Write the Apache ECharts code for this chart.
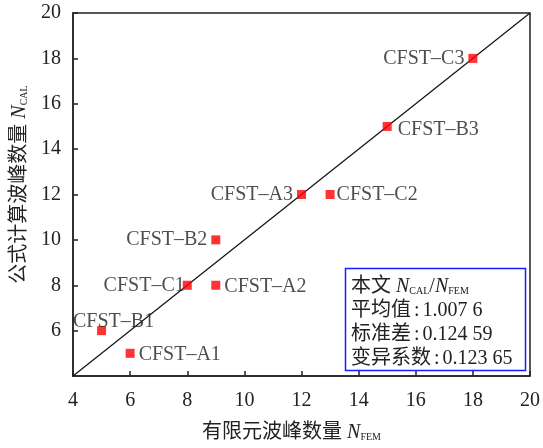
<!DOCTYPE html>
<html>
<head>
<meta charset="utf-8">
<script src="https://cdn.jsdelivr.net/npm/echarts@6/dist/echarts.min.js"></script>
<style>
  html, body { margin: 0; padding: 0; background: #fff; }
  #chart { width: 543px; height: 448px; }
</style>
</head>
<body>
<div id="chart"></div>
<script>
// Specimen names with finite-element and formula wave-crest counts
const specimens = ['CFST–A1', 'CFST–B1', 'CFST–C1', 'CFST–A2', 'CFST–B2', 'CFST–A3', 'CFST–C2', 'CFST–B3', 'CFST–C3'];
const nFem = [6, 5, 8, 9, 9, 12, 13, 15, 18];
const nCal = [5, 6, 8, 8, 10, 12, 12, 15, 18];
// Reference line y = x
const refLine = [[4, 4], [20, 20]];
// Statistics of N_CAL / N_FEM
const statMean = '1.007 6';
const statStd = '0.124 59';
const statCov = '0.123 65';

// Label placement per specimen: side, distance, offset
const labelSide = ['right', 'top', 'left', 'right', 'left', 'left', 'right', 'right', 'left'];
const labelDist = [4, 0, -2, 4, 4, 4, 2, 6, 4];
const labelShift = [[0, 1], [12, 6], [0, 0], [0, 1], [0, 0], [0, 0], [0, 0], [0, 3], [0, 0]];

const serif = '"Liberation Serif", "Noto Sans CJK SC", serif';
const sub = { fontFamily: serif, fontSize: 10, color: '#222', padding: [8, 0, 0, 0] };
const ital = { fontFamily: serif, fontSize: 20, fontStyle: 'italic', color: '#222' };
const colon = { fontFamily: serif, fontSize: 20, color: '#222', padding: [0, 3, 0, 3] };

const chart = echarts.init(document.getElementById('chart'));

const points = nFem.map((x, i) => ({
  value: [x, nCal[i]],
  name: specimens[i],
  label: { position: labelSide[i], distance: labelDist[i], offset: labelShift[i] }
}));

chart.setOption({
  animation: false,
  backgroundColor: '#fff',
  grid: { left: 73, right: 13, top: 13, bottom: 68, show: true, borderColor: '#222', borderWidth: 1.5 },
  xAxis: {
    type: 'value', min: 4, max: 20, interval: 2,
    name: '有限元波峰数量 {i|N}{s|FEM}',
    nameLocation: 'middle', nameGap: 47,
    nameTextStyle: { fontFamily: serif, fontSize: 20, color: '#222', padding: [0, 20, 0, 0], rich: { i: ital, s: sub } },
    axisLine: { lineStyle: { color: '#222', width: 1.5 } },
    axisTick: { inside: true, length: 5, lineStyle: { color: '#222', width: 1.5 } },
    axisLabel: { fontFamily: serif, fontSize: 20, color: '#222', margin: 15 },
    splitLine: { show: false }
  },
  yAxis: {
    type: 'value', min: 4, max: 20, interval: 2,
    name: '公式计算波峰数量 {i|N}{s|CAL}',
    nameLocation: 'middle', nameGap: 37, nameRotate: 90,
    nameTextStyle: { fontFamily: serif, fontSize: 20, color: '#222', padding: [0, 0, 0, 20], rich: { i: ital, s: sub } },
    axisLine: { lineStyle: { color: '#222', width: 1.5 } },
    axisTick: { inside: true, length: 5, lineStyle: { color: '#222', width: 1.5 } },
    axisLabel: { fontFamily: serif, fontSize: 20, color: '#222', margin: 12, showMinLabel: false },
    splitLine: { show: false }
  },
  series: [
    {
      type: 'line',
      data: refLine,
      symbol: 'none',
      lineStyle: { color: '#111', width: 1.2 },
      silent: true
    },
    {
      type: 'scatter',
      data: points,
      symbol: 'rect',
      symbolSize: 9,
      itemStyle: { color: '#ff0000' },
      label: {
        show: true,
        formatter: p => p.name,
        fontFamily: serif, fontSize: 20, color: '#222'
      },
      z: 3
    }
  ],
  graphic: [
    {
      type: 'rect',
      shape: { x: 345.5, y: 268.5, width: 180, height: 102 },
      style: { fill: '#fff', stroke: '#1a1aff', lineWidth: 1.5 },
      z: 10
    },
    {
      type: 'text', x: 351, y: 275, z: 11,
      style: {
        text: '本文 {i|N}{s|CAL}/{i|N}{s|FEM}\n平均值{c|:}' + statMean + '\n标准差{c|:}' + statStd + '\n变异系数{c|:}' + statCov,
        font: '20px ' + serif,
        fill: '#222',
        lineHeight: 24,
        rich: {
          i: Object.assign({ lineHeight: 24 }, ital),
          s: Object.assign({ lineHeight: 24 }, sub),
          c: Object.assign({ lineHeight: 24 }, colon)
        }
      }
    }
  ]
});
</script>
</body>
</html>
